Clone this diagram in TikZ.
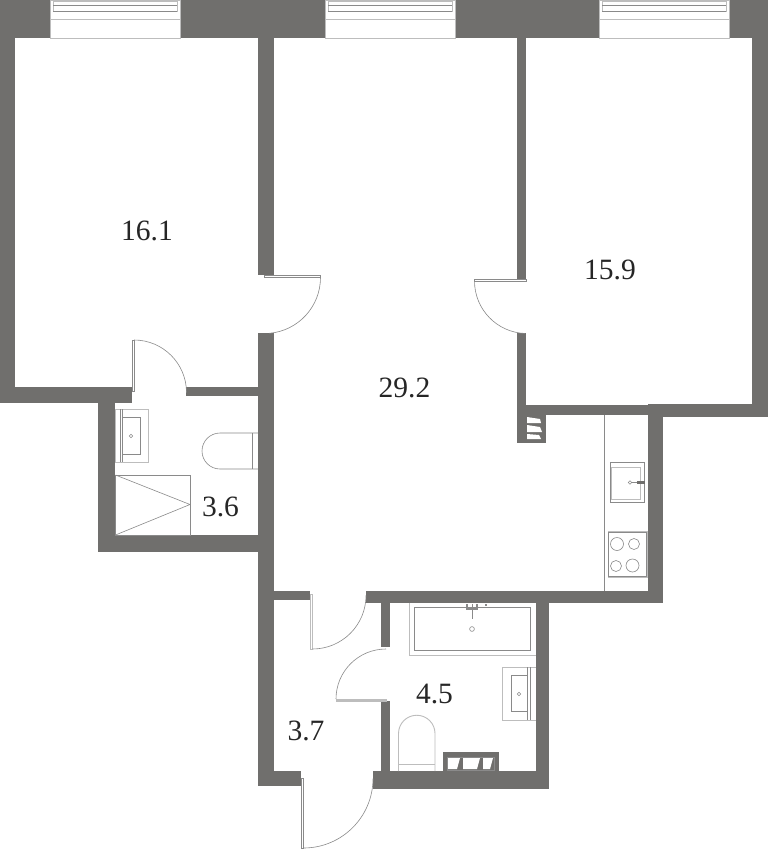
\documentclass[tikz,border=0pt]{standalone}
\usepackage{fontspec}
\setmainfont{Liberation Serif}
\definecolor{wallc}{HTML}{706F6D}
\definecolor{linec}{HTML}{8A8A8A}
\definecolor{lightc}{HTML}{BDBDBD}
\tikzset{
  wall/.style={fill=wallc,draw=none},
  thin line/.style={draw=linec,line width=0.6pt},
  light line/.style={draw=lightc,line width=0.9pt},
  leaf/.style={draw=linec,fill=white,line width=0.6pt},
  swing/.style={draw=linec,line width=0.6pt},
  slat/.style={fill=white,draw=none},
  area/.style={font=\fontsize{29.5}{30}\selectfont,text=black!85,inner sep=0pt},
}
\newcommand{\winframe}[1]{%
  \begin{scope}[xshift=#1pt]
    \draw[fill=white,draw=lightc,line width=0.8pt] (0,0) rectangle (130,38);
    \draw[draw=lightc,line width=0.6pt] (3,1.7) rectangle (127,5.5);
    \draw[draw=lightc,line width=0.6pt] (3,5.5) -- (3,11.5) -- (127,11.5) -- (127,5.5);
    \draw[draw=linec,line width=1.2pt] (3,11.5) -- (127,11.5);
    \draw[draw=linec,line width=0.8pt] (3,5.5) -- (127,5.5);
    \draw[draw=lightc,line width=1pt] (0,19) -- (130,19);
  \end{scope}}
\begin{document}
\begin{tikzpicture}[x=1pt,y=-1pt]
\useasboundingbox (0,0) rectangle (768,849);
\fill[white] (0,0) rectangle (768,849);
% walls
\fill[wall] (0,0) rectangle (768,38);
\fill[wall] (0,38) rectangle (15,403);
\fill[wall] (752,38) rectangle (768,417);
\fill[wall] (0,387) rectangle (132,403);
\fill[wall] (186,387) rectangle (258,396);
\fill[wall] (98,403) rectangle (115,552);
\fill[wall] (98,535) rectangle (258,552);
\fill[wall] (258,38) rectangle (274,275);
\fill[wall] (258,333) rectangle (274,786);
\fill[wall] (517,38) rectangle (526,279);
\fill[wall] (517,333) rectangle (526,415);
\fill[wall] (526,405) rectangle (648,415);
\fill[wall] (648,404) rectangle (768,417);
\fill[wall] (648,417) rectangle (663,603);
\fill[wall] (517,415) rectangle (546,443);
\fill[wall] (366,591) rectangle (663,603);
\fill[wall] (274,591) rectangle (310,600);
\fill[wall] (536,603) rectangle (549,789);
\fill[wall] (381,603) rectangle (390,647);
\fill[wall] (381,701) rectangle (390,771);
\fill[wall] (373,771) rectangle (549,789);
\fill[wall] (258,771) rectangle (301,786);
\fill[wall] (443,752) rectangle (499,771);
% windows
\winframe{50}
\winframe{325}
\winframe{599}
% doors
\draw[leaf] (264,275) rectangle (320.5,277.5);
\draw[swing] (320.5,277.5) arc[start angle=0,end angle=85,radius=56];
\draw[leaf] (474.5,279) rectangle (526.5,281);
\draw[swing] (474.5,281) arc[start angle=180,end angle=92,radius=52.5];
\draw[leaf] (132,340) rectangle (134,391);
\draw[swing] (134,340) arc[start angle=-90,end angle=0,radius=52.5];
\draw[leaf,draw=lightc] (310,594) rectangle (312.5,649);
\draw[swing] (312.5,649) arc[start angle=90,end angle=0,radius=53.5];
\draw[leaf,draw=lightc,fill=lightc] (336,699) rectangle (386,701);
\draw[swing] (336,699) arc[start angle=180,end angle=270,radius=50];
\draw[leaf] (301,778) rectangle (303.5,848);
\draw[swing] (303.5,848) arc[start angle=90,end angle=0,radius=69.5];
% left bath sink
\draw[light line] (115,409) rectangle (148,462);
\draw[thin line] (120,409) -- (120,462) (122,409) -- (122,462);
\draw[thin line] (122.5,417.5) rectangle (140,454);
\draw[thin line] (131,436) circle[radius=1.8];
% left bath toilet
\draw[thin line] (258,433) -- (220,433) arc[start angle=-90,end angle=-270,radius=18] -- (258,469);
\draw[thin line] (252,433) -- (252,469);
% shower
\draw[thin line] (115.5,475) rectangle (190,535);
\draw[thin line] (115.5,475) -- (190,504.5) -- (115.5,535);
% kitchen vent
\fill[slat] (527,417) -- (540,419) -- (541,423) -- (527,423) -- cycle;
\fill[slat] (527,425) -- (540,427) -- (542,432) -- (527,432) -- cycle;
\fill[slat] (527,434) -- (539,435) -- (541,439) -- (527,439) -- cycle;
% kitchen
\draw[thin line] (604.5,415) -- (604.5,591);
\draw[thin line] (610.5,462.5) rectangle (644.5,502);
\draw[light line] (611.5,467) rectangle (640.5,499.5);
\draw[thin line] (630,482.5) circle[radius=1.8];
\draw[thin line] (632,482.5) -- (638,482.5);
\draw[draw=wallc,line width=3pt] (637,482.5) -- (645,482.5);
\draw[light line] (608.5,531.5) rectangle (647.5,577.5);
\draw[thin line] (608.5,532.5) rectangle (646,576.5);
\draw[thin line] (617,544) circle[radius=6.5];
\draw[thin line] (634,544) circle[radius=5.5];
\draw[thin line] (616,566) circle[radius=5.5];
\draw[thin line] (632.5,565.5) circle[radius=6.5];
% bath
\draw[light line] (409,603) -- (409,655) -- (536,655);
\draw[thin line] (414.5,607) rectangle (530,650.5);
\draw[thin line] (472,604) -- (472,619);
\draw[draw=linec,line width=1.2pt] (466,609) -- (478,609);
\draw[draw=linec,line width=1.2pt] (467,604) -- (467,608) (477,604) -- (477,608) (486,604) -- (486,606);
\draw[thin line] (472,629) circle[radius=2.4];
% bath sink
\draw[light line] (536,667) -- (502.5,667) -- (502.5,720) -- (536,720);
\draw[thin line] (527.5,667) -- (527.5,720) (530.5,667) -- (530.5,720);
\draw[thin line] (511,675) rectangle (527.5,711);
\draw[thin line] (519,694) circle[radius=1.8];
% toilet
\draw[light line] (398.5,771) -- (398.5,733.5) arc[start angle=180,end angle=360,radius=18.25] -- (435,771);
\draw[light line] (398.5,764) -- (435,764);
% bath vent
\draw[draw=linec,line width=0.5pt] (447,757) rectangle (494,770);
\fill[slat] (448,758) -- (460,758) -- (457,769) -- (448,769) -- cycle;
\fill[slat] (463,758) -- (480,758) -- (477,769) -- (463,769) -- cycle;
\fill[slat] (483,758) -- (493,758) -- (490,769) -- (483,769) -- cycle;
% labels
\node[area] (a1) at (147,231) {16.1};
\node[area] (a2) at (610,270) {15.9};
\node[area] (a3) at (404.5,388) {29.2};
\node[area] (a4) at (220.5,507) {3.6};
\node[area] (a5) at (434.5,694) {4.5};
\node[area] (a6) at (306,731) {3.7};
\end{tikzpicture}
\end{document}
